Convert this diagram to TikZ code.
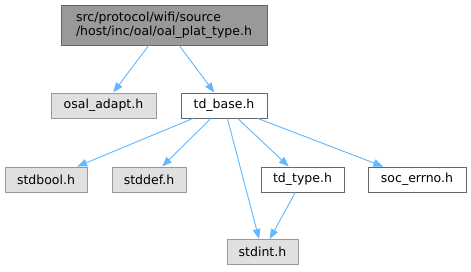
\documentclass[tikz,border=0pt]{standalone}
\usepackage{fontspec}
\setmainfont{DejaVu Sans}
\usepackage{xcolor}
\usetikzlibrary{arrows.meta,positioning}
\definecolor{rootgray} {RGB}{153,153,153}
\definecolor{rootedge} {RGB}{102,102,102}
\definecolor{sysgray}  {RGB}{224,224,224}
\definecolor{sysedge}  {RGB}{153,153,153}
\definecolor{incblue}  {RGB}{99,184,255}
\tikzset{
  filebox/.style={draw, align=center, minimum height=25pt,
                  minimum width=#1, inner sep=2pt,
                  font=\fontsize{12.5}{14.5}\selectfont, line width=0.9pt},
  filebox/.default=80pt,
  rootbox/.style={filebox=206pt, fill=rootgray, draw=rootedge,
                  minimum height=40pt, align=left},
  sysbox/.style ={filebox=#1, fill=sysgray, draw=sysedge},
  sysbox/.default=80pt,
  locbox/.style ={filebox=#1, fill=white, draw=rootedge},
  locbox/.default=80pt,
  inc/.style    ={-{Triangle[length=10pt,width=7.5pt]}, draw=incblue,
                  fill=incblue, line width=0.9pt},
}
\begin{document}
\begin{tikzpicture}[x=1pt,y=-1pt]
  \useasboundingbox (0,0) rectangle (471,271);
  %% top file
  \node[rootbox] (plat) at (164,25)
    {src/protocol/wifi/source\\/host/inc/oal/oal\_plat\_type.h};
  %% second row
  \node[sysbox=105pt] (osal) at (103.5,105.5) {osal\_adapt.h};
  \node[locbox=86pt]  (base) at (224,105.5) {td\_base.h};
  %% third row
  \node[sysbox=82pt]  (bool)  at (46,179.5)    {stdbool.h};
  \node[sysbox=74pt]  (def)   at (149,179.5)   {stddef.h};
  \node[locbox=83pt]  (type)  at (302.5,179.5) {td\_type.h};
  \node[locbox=98pt]  (errno) at (417,179.5)   {soc\_errno.h};
  \node[sysbox=71pt]  (sint)  at (262.5,252)   {stdint.h};
  \draw[inc] (plat) -- (osal);
  \draw[inc] (plat) -- (base);
  \draw[inc] (base) -- (bool);
  \draw[inc] (base) -- (def);
  \draw[inc] (base) -- (sint);
  \draw[inc] (base) -- (type);
  \draw[inc] (base) -- (errno);
  \draw[inc] (type) -- (sint);
\end{tikzpicture}
\end{document}
